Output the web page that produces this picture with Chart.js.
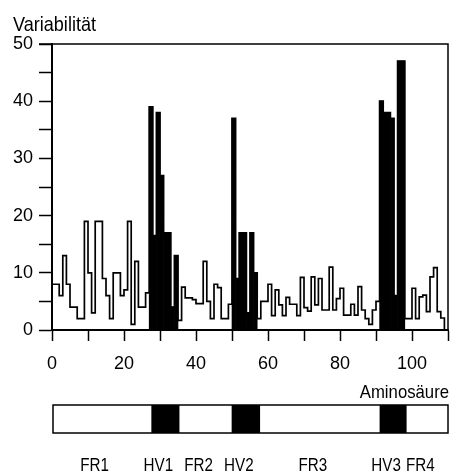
<!DOCTYPE html>
<html>
<head>
<meta charset="utf-8">
<script src="https://cdn.jsdelivr.net/npm/chart.js@4/dist/chart.umd.min.js"></script>
<style>
  html, body { margin: 0; padding: 0; background: #fff; }
  #wrap { width: 460px; height: 473px; position: relative; }
</style>
</head>
<body>
<div id="wrap"><canvas id="c" width="460" height="473"></canvas></div>
<script>
// Variability per amino-acid position (bar i covers position i .. i+1)
const variability = [
  8, 8, 6, 13, 8, 4, 4, 2, 2, 19,
  10, 3, 19, 19, 9, 6, 2, 10, 10, 6,
  7, 19, 1, 12, 4, 4, 6.5, 39, 16.5, 38,
  27, 17, 17, 4, 13, 1.7, 7.5, 5.6, 5.6, 5.3,
  4.6, 4.6, 12, 5, 2, 8, 7.4, 2, 2, 4.5,
  37, 9, 17, 17, 3, 17, 10, 2, 5, 5,
  8, 2.5, 7, 4.4, 2.5, 5.7, 4.5, 4.5, 2.5, 9.2,
  3.9, 3.3, 9.3, 4.4, 9, 3.5, 3.5, 11, 3.5, 5.5,
  7.3, 2.6, 2.6, 4.5, 2.6, 7.6, 3.5, 2, 1, 3.5,
  5, 40, 38, 38, 37, 6, 47, 47, 2, 2,
  7.3, 2, 5.8, 6.1, 3.2, 9.3, 10.9, 3.2, 2.1
];
// Hypervariable positions drawn filled (first, last bar index)
const hvRanges = [[27, 34], [50, 56], [91, 97]];
// Domain structure bar below the axis
const regionNames  = ['FR1', 'HV1', 'FR2', 'HV2', 'FR3', 'HV3', 'FR4'];
const regionStarts = [0, 27.6, 35.4, 49.9, 57.8, 91, 98.5];
const regionEnd = 110;
// Axis ticks
const xMax = 110, xStep = 10, xLabelEvery = 20;
const yMax = 50, yStep = 5, yLabelEvery = 10;

const isHV = i => hvRanges.some(([a, b]) => i >= a && i <= b);
const n = variability.length;
const stepPoints = [{ x: 0, y: 0 }]
  .concat(variability.map((v, i) => ({ x: i, y: v })))
  .concat([{ x: n, y: variability[n - 1] }, { x: n, y: 0 }]);
const hvBars = variability.map((v, i) => ({ x: i + 0.5, y: v })).filter((p, i) => isHV(i));

const FONT = "'Liberation Sans', Arial, sans-serif";

// draws real text, horizontally condensed (narrow Helvetica look)
function narrowText(ctx, text, x, y, align, size, sx) {
  ctx.save();
  ctx.font = size + 'px ' + FONT;
  ctx.textAlign = 'left';
  ctx.textBaseline = 'alphabetic';
  const w = ctx.measureText(text).width * sx;
  let left = x;
  if (align === 'center') left = x - w / 2;
  else if (align === 'right') left = x - w;
  ctx.translate(left, y);
  ctx.scale(sx, 1);
  ctx.fillStyle = '#000';
  ctx.fillText(text, 0, 0);
  ctx.restore();
}

const framePlugin = {
  id: 'frame',
  afterDraw(chart) {
    const { ctx, chartArea: ca, scales: { x } } = chart;
    ctx.save();
    // top and right border
    ctx.strokeStyle = '#000';
    ctx.lineWidth = 1.5;
    ctx.beginPath();
    ctx.moveTo(ca.left - 13, ca.top);
    ctx.lineTo(ca.right, ca.top);
    ctx.lineTo(ca.right, ca.bottom);
    ctx.stroke();

    // axis titles
    narrowText(ctx, 'Variabilität', 13, ca.top - 13, 'left', 21, 0.86);
    narrowText(ctx, 'Aminosäure', ca.right + 1, ca.bottom + 68, 'right', 19, 0.88);

    // structure bar
    const top = ca.bottom + 75, h = 28;
    const x0 = x.getPixelForValue(0), x1 = x.getPixelForValue(regionEnd);
    regionNames.forEach((name, k) => {
      const a = x.getPixelForValue(regionStarts[k]);
      const b = x.getPixelForValue(k + 1 < regionStarts.length ? regionStarts[k + 1] : regionEnd);
      if (name.startsWith('HV')) {
        ctx.fillStyle = '#000';
        ctx.fillRect(a, top, b - a, h);
      }
      narrowText(ctx, name, (a + b) / 2 - 7, ca.bottom + 141, 'center', 19, 0.8);
    });
    ctx.strokeStyle = '#000';
    ctx.lineWidth = 1.5;
    ctx.strokeRect(x0 + 1, top, x1 - x0 - 1, h);
    ctx.restore();
  }
};

new Chart(document.getElementById('c'), {
  type: 'line',
  data: {
    datasets: [
      {
        type: 'line',
        data: stepPoints,
        stepped: 'before',
        borderColor: '#000',
        borderWidth: 1.7,
        pointRadius: 0,
        fill: false,
        order: 0
      },
      {
        type: 'bar',
        data: hvBars,
        backgroundColor: '#000',
        borderWidth: 0,
        barPercentage: 1,
        categoryPercentage: 1,
        grouped: false,
        order: 1
      }
    ]
  },
  plugins: [framePlugin],
  options: {
    responsive: false,
    animation: false,
    events: [],
    layout: { padding: { left: 0, right: 10, top: 44, bottom: 103 } },
    plugins: { legend: { display: false }, tooltip: { enabled: false }, title: { display: false } },
    scales: {
      x: {
        type: 'linear',
        min: 0, max: xMax,
        offset: false,
        afterFit(s) { s.height = 40; },
        ticks: {
          stepSize: xStep,
          autoSkip: false,
          maxRotation: 0,
          color: '#000',
          font: { family: FONT, size: 18 },
          padding: 12,
          callback: v => (v % xLabelEvery === 0 && v <= 100 ? String(v) : '')
        },
        grid: { drawOnChartArea: false, drawTicks: true, tickLength: 11, tickColor: '#000', tickWidth: 1.5, offset: false },
        border: { display: true, color: '#000', width: 2 }
      },
      y: {
        type: 'linear',
        min: 0, max: yMax,
        afterFit(s) { s.width = 52; },
        ticks: {
          stepSize: yStep,
          color: '#000',
          font: { family: FONT, size: 18 },
          padding: 6,
          callback: v => (v % yLabelEvery === 0 ? String(v) : '')
        },
        grid: { drawOnChartArea: false, drawTicks: true, tickLength: 13, tickColor: '#000', tickWidth: 1.5 },
        border: { display: true, color: '#000', width: 2 }
      }
    }
  }
});
</script>
</body>
</html>
